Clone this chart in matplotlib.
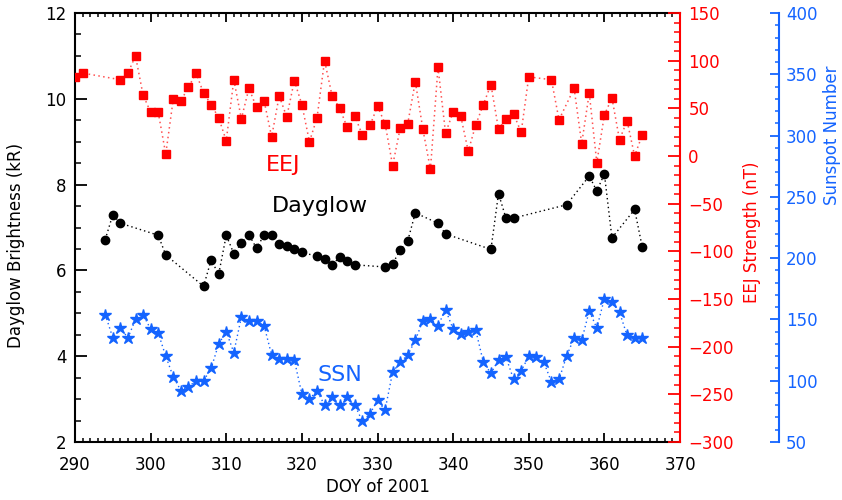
import matplotlib
matplotlib.use("Agg")
import matplotlib.pyplot as plt
from matplotlib.ticker import MultipleLocator

# ---------------- data ----------------
eej_doy = [290, 291, 296, 297, 298, 299, 300, 301, 302, 303, 304, 305, 306, 307, 308, 309,
           310, 311, 312, 313, 314, 315, 316, 317, 318, 319, 320, 321, 322, 323, 324, 325,
           326, 327, 328, 329, 330, 331, 332, 333, 334, 335, 336, 337, 338, 339, 340, 341,
           342, 343, 344, 345, 346, 347, 348, 349, 350, 353, 354, 356, 357, 358, 359, 360,
           361, 362, 363, 364, 365]
eej_nt = [83, 87, 80, 87, 105, 64, 46, 46, 2, 60, 58, 72, 87, 66, 54, 40,
          16, 80, 39, 71, 51, 58, 20, 63, 41, 79, 54, 15, 40, 100, 63, 50,
          30, 42, 22, 32, 52, 34, -10, 29, 34, 78, 28, -14, 93, 24, 46, 42,
          5, 33, 54, 75, 28, 39, 44, 25, 83, 80, 38, 71, 13, 66, -7, 43,
          61, 17, 37, 0, 22]

dg_doy = [294, 295, 296, 301, 302, 307, 308, 309, 310, 311, 312, 313, 314, 315, 316, 317,
          318, 319, 320, 322, 323, 324, 325, 326, 327, 331, 332, 333, 334, 335, 338, 339,
          345, 346, 347, 348, 355, 358, 359, 360, 361, 364, 365]
dg_kr = [6.72, 7.30, 7.10, 6.82, 6.36, 5.63, 6.24, 5.91, 6.82, 6.39, 6.63, 6.83, 6.52, 6.82, 6.82, 6.62,
         6.57, 6.51, 6.42, 6.33, 6.26, 6.13, 6.31, 6.23, 6.13, 6.08, 6.15, 6.48, 6.69, 7.34, 7.10, 6.85,
         6.49, 7.79, 7.21, 7.22, 7.53, 8.20, 7.85, 8.25, 6.76, 7.42, 6.55]

ssn_doy = list(range(294, 366))
ssn_val = [154, 135, 143, 135, 150, 154, 142, 139, 120, 103, 92, 95, 100, 100, 110, 130,
           140, 123, 152, 149, 149, 145, 121, 118, 118, 117, 89, 85, 92, 80, 87, 80,
           87, 80, 67, 73, 84, 76, 107, 115, 121, 133, 149, 150, 145, 158, 142, 138,
           140, 141, 115, 106, 117, 119, 101, 108, 120, 119, 115, 99, 101, 120, 135, 133,
           157, 143, 167, 164, 156, 137, 135, 135]

x_ticks = [290, 300, 310, 320, 330, 340, 350, 360, 370]
left_ticks = [2, 4, 6, 8, 10, 12]
eej_ticks = [-300, -250, -200, -150, -100, -50, 0, 50, 100, 150]
ssn_ticks = [50, 100, 150, 200, 250, 300, 350, 400]

RED = "#ff0000"
BLUE = "#1464ff"
FS = 12
DOT = (0, (1, 2.2))

plt.rcParams['font.family'] = ['DejaVu Sans']

fig = plt.figure(figsize=(8.42, 5.0), dpi=100)
W, H = 842, 500
x0, x1, y0, y1 = 75, 680, 13, 442
ax = fig.add_axes([x0 / W, 1 - y1 / H, (x1 - x0) / W, (y1 - y0) / H])

# left axis: dayglow
ax.plot(dg_doy, dg_kr, linestyle=DOT, color='black', lw=1.0,
        marker='o', markersize=6, markerfacecolor='black', markeredgecolor='black', zorder=3)
ax.set_xlim(290, 370)
ax.set_ylim(2, 12)
ax.set_xticks(x_ticks)
ax.set_yticks(left_ticks)
ax.xaxis.set_minor_locator(MultipleLocator(1))
ax.yaxis.set_minor_locator(MultipleLocator(0.5))
ax.tick_params(axis='x', which='major', direction='in', length=6.5, width=1.3, top=True,
               labelsize=FS, pad=10)
ax.tick_params(axis='x', which='minor', direction='in', length=3, width=1.1, top=True)
ax.tick_params(axis='y', which='major', direction='in', length=8.5, width=1.3, right=False,
               labelsize=FS, pad=6)
ax.tick_params(axis='y', which='minor', direction='in', length=4.3, width=1.1, right=False)
for s in ['left', 'bottom', 'top']:
    ax.spines[s].set_linewidth(1.5)
ax.spines['right'].set_visible(False)

# EEJ axis
ax2 = ax.twinx()
ax2.plot(eej_doy, eej_nt, linestyle=DOT, color='#ff5050', lw=1.1,
         marker='s', markersize=6.2, markerfacecolor=RED, markeredgecolor=RED, zorder=3)
ax2.set_ylim(-300, 150)
ax2.set_yticks(eej_ticks)
ax2.yaxis.set_minor_locator(MultipleLocator(10))
ax2.tick_params(axis='y', which='major', direction='in', length=8.5, width=1.3, colors=RED,
                labelsize=FS, pad=6)
ax2.tick_params(axis='y', which='minor', direction='in', length=4, width=1.1, colors=RED)
for s in ['left', 'bottom', 'top']:
    ax2.spines[s].set_visible(False)
ax2.spines['right'].set_color(RED)
ax2.spines['right'].set_linewidth(1.5)

# SSN axis
ax3 = ax.twinx()
ax3.spines['right'].set_position(('axes', (779 - x0) / (x1 - x0)))
ax3.plot(ssn_doy, ssn_val, linestyle=DOT, color=BLUE, lw=1.0,
         marker='*', markersize=9, markerfacecolor=BLUE, markeredgecolor=BLUE, zorder=3)
ax3.set_ylim(50, 400)
ax3.set_yticks(ssn_ticks)
ax3.yaxis.set_minor_locator(MultipleLocator(10))
ax3.tick_params(axis='y', which='major', direction='in', length=6.5, width=1.3, colors=BLUE,
                labelsize=FS, pad=5)
ax3.tick_params(axis='y', which='minor', direction='in', length=3.2, width=1.1, colors=BLUE)
for s in ['left', 'bottom', 'top']:
    ax3.spines[s].set_visible(False)
ax3.spines['right'].set_color(BLUE)
ax3.spines['right'].set_linewidth(1.5)

# annotations
ax.text(317.5, 8.46, 'EEJ', color=RED, fontsize=16, ha='center', va='center')
ax.text(322.4, 7.5, 'Dayglow', color='black', fontsize=16, ha='center', va='center')
ax.text(325.0, 3.56, 'SSN', color=BLUE, fontsize=16, ha='center', va='center')

# axis labels
fig.text(16 / W, 1 - 245 / H, 'Dayglow Brightness (kR)', rotation=90, ha='center', va='center',
         fontsize=FS)
fig.text(378 / W, 1 - 487 / H, 'DOY of 2001', ha='center', va='center', fontsize=FS)
fig.text(752 / W, 1 - 232 / H, 'EEJ Strength (nT)', rotation=90, ha='center', va='center',
         fontsize=FS, color=RED)
fig.text(832 / W, 1 - 135 / H, 'Sunspot Number', rotation=90, ha='center', va='center',
         fontsize=FS, color=BLUE)

fig.savefig('out.png', dpi=100)
